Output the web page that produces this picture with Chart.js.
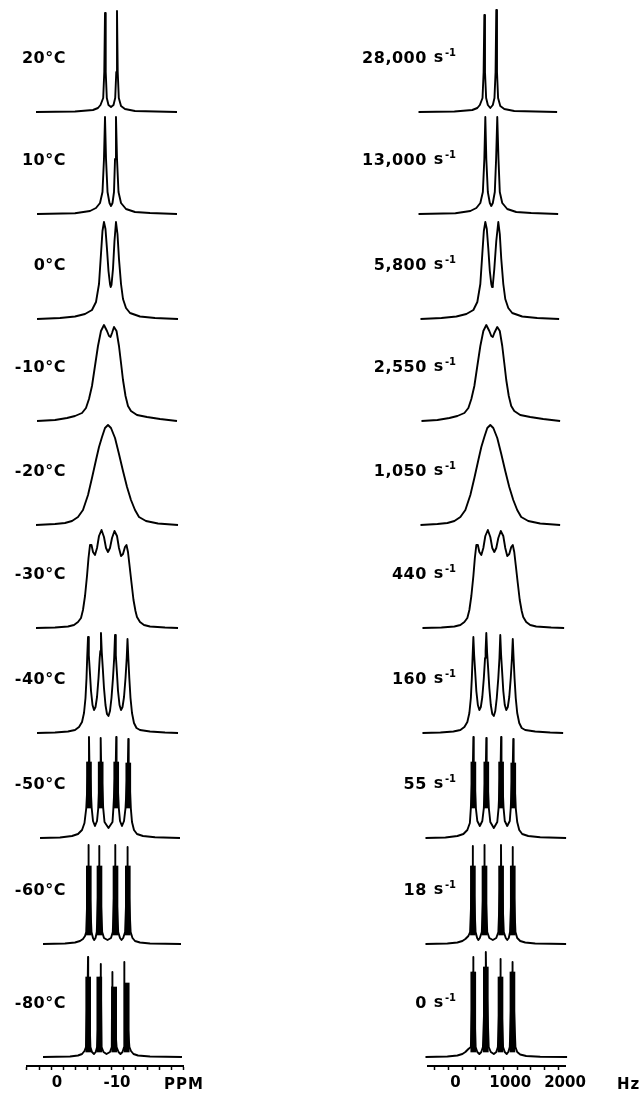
<!DOCTYPE html>
<html>
<head>
<meta charset="utf-8">
<title>Exchange-broadened spectra vs. temperature</title>
<script src="https://cdn.jsdelivr.net/npm/chart.js@4.4.1/dist/chart.umd.min.js"></script>
<style>
  html, body { margin: 0; padding: 0; background: #fff; }
  #page { position: relative; width: 641px; height: 1093px; overflow: hidden; }
  canvas { position: absolute; top: 0; }
  .lbl {
    position: absolute;
    font-family: 'DejaVu Sans', sans-serif;
    font-weight: bold;
    font-size: 16px;
    letter-spacing: 0.5px;
    color: #000;
    white-space: nowrap;
    transform: translateY(-50%);
  }
  .lbl sup { font-size: 10px; letter-spacing: 0; margin-left: 1px; }
  .lbl .unit { margin-left: 7px; }
  .axis-unit { font-size: 15px; letter-spacing: 1px; }
</style>
</head>
<body>
<div id="page">
  <canvas id="left-chart" width="320" height="1093" style="left:0"></canvas>
  <canvas id="right-chart" width="321" height="1093" style="left:320px"></canvas>
</div>
<script>
/* ═══════════════════════════════════════════════════════════════════════════
   Stacked spectra — observed (ppm, left) and calculated (Hz, right)
   Each trace is [position, height above its own baseline].
   ═══════════════════════════════════════════════════════════════════════════ */

const tempLabels = ['20°C', '10°C', '0°C', '-10°C', '-20°C', '-30°C', '-40°C', '-50°C', '-60°C', '-80°C'];
const rateLabels = ['28,000', '13,000', '5,800', '2,550', '1,050', '440', '160', '55', '18', '0'];

const ppmTicks = [4, 2, 0, -2, -4, -6, -8, -10, -12, -14, -16, -18, -20];
const ppmTickLabels = { '0': '0', '-10': '-10' };
const hzTicks = [-500, -250, 0, 250, 500, 750, 1000, 1250, 1500, 1750, 2000];
const hzTickLabels = { '0': '0', '1000': '1000', '2000': '2000' };

// ─── Observed (ppm) ──────────────────────────────────────────────────────────

const obs20 = [[3.5,0],[-3,0.5],[-6,2],[-6.83,4],[-7.25,7],[-7.7,14],[-7.88,40],[-8,99],[-8.12,40],[-8.3,14],[-8.58,7],[-9,5],[-9.42,7],[-9.7,14],[-9.88,40],[-10,101],[-10.12,40],[-10.3,14],[-10.67,6],[-11.33,3],[-13,1],[-20,0]];
const obs10 = [[3.33,0],[-3,0.7],[-5.5,3],[-6.5,6],[-7.17,11],[-7.58,22],[-7.83,55],[-8,97],[-8.17,55],[-8.42,22],[-8.75,11],[-9,8],[-9.25,11],[-9.5,22],[-9.67,55],[-9.83,97],[-10,55],[-10.25,22],[-10.67,11],[-11.5,5],[-13,2],[-15.5,1],[-20,0]];
const obs0 = [[3.33,0],[-0.5,1],[-3,2.5],[-4.67,5],[-5.83,9],[-6.5,17],[-7,35],[-7.33,65],[-7.58,88],[-7.83,97],[-8.08,90],[-8.33,70],[-8.58,48],[-8.83,35],[-8.95,32],[-9.08,34],[-9.33,50],[-9.58,78],[-9.83,97],[-10.08,85],[-10.33,60],[-10.67,35],[-11,20],[-11.5,11],[-12.17,6],[-13.83,2.5],[-16.33,1],[-20.17,0]];
const obsM10 = [[3.33,0],[0.33,1],[-1.67,3],[-3,5],[-4.17,8],[-4.83,13],[-5.33,22],[-5.83,35],[-6.33,55],[-6.83,75],[-7.33,90],[-7.83,96],[-8.33,90],[-8.67,85],[-8.92,84],[-9.17,88],[-9.5,94],[-9.92,90],[-10.33,75],[-10.67,58],[-11,41],[-11.42,25],[-11.83,15],[-12.33,10],[-13.33,6],[-15,4],[-17.17,2],[-20,0]];
const obsM20 = [[3.5,0],[0.33,1],[-1.33,2],[-2.5,4],[-3.5,8],[-4.33,15],[-5.17,30],[-5.83,47],[-6.5,65],[-7,78],[-7.5,88],[-8,97],[-8.5,100],[-9,97],[-9.67,87],[-10.33,71],[-11,54],[-11.67,38],[-12.33,25],[-13,15],[-13.67,8],[-14.83,4],[-16.83,1.5],[-20.17,0]];
const obsM30 = [[3.5,0],[0.33,0.5],[-1.83,1.5],[-2.83,3],[-3.5,6],[-4,10],[-4.33,18],[-4.67,32],[-5,52],[-5.25,70],[-5.5,83],[-5.75,83],[-6,76],[-6.33,73],[-6.67,80],[-7,92],[-7.42,98],[-7.83,91],[-8.17,80],[-8.5,76],[-8.83,80],[-9.17,90],[-9.58,97],[-10,92],[-10.33,80],[-10.67,72],[-11,74],[-11.33,81],[-11.58,83],[-11.83,76],[-12.08,63],[-12.42,45],[-12.75,28],[-13.08,17],[-13.33,11],[-13.83,6],[-14.5,3],[-15.5,1.5],[-18,0.5],[-20.17,0]];
const obsM40 = [[3.33,0],[0.33,0.5],[-1.83,1.5],[-3,3],[-3.67,6],[-4.17,11],[-4.5,20],[-4.75,35],[-4.92,55],[-5.03,75],[-5.17,96],[-5.3,78],[-5.47,62],[-5.67,42],[-5.92,28],[-6.17,23],[-6.42,26],[-6.67,36],[-6.92,55],[-7.12,75],[-7.22,82],[-7.33,100],[-7.47,80],[-7.63,65],[-7.83,45],[-8.08,28],[-8.33,19],[-8.58,17],[-8.83,22],[-9.08,35],[-9.33,55],[-9.53,75],[-9.67,98],[-9.8,78],[-9.97,62],[-10.17,42],[-10.42,28],[-10.67,23],[-10.92,26],[-11.17,36],[-11.42,55],[-11.62,75],[-11.75,94],[-11.88,76],[-12.05,55],[-12.25,35],[-12.5,20],[-12.83,10],[-13.25,5],[-13.83,3],[-15.5,1.5],[-18,0.5],[-20.17,0]];
const obsM50 = [[2.83,0],[-0.5,0.5],[-2.5,2],[-3.5,4],[-4.17,8],[-4.58,15],[-4.88,30],[-5.27,76],[-5.33,101],[-5.4,76],[-5.78,30],[-6,17],[-6.33,12],[-6.67,17],[-6.88,30],[-7.22,76],[-7.28,100],[-7.35,76],[-7.7,30],[-7.92,16],[-8.58,10],[-9.25,16],[-9.4,30],[-9.8,76],[-9.87,101],[-9.93,76],[-10.3,30],[-10.5,17],[-10.83,12],[-11.17,17],[-11.42,30],[-11.82,76],[-11.88,99],[-11.95,76],[-12.3,30],[-12.5,16],[-12.83,8],[-13.33,4],[-14.33,2],[-16.33,0.8],[-20.5,0]];
const obsM60 = [[2.33,0],[-1.33,0.5],[-3,1.5],[-3.83,3],[-4.33,5],[-4.67,8],[-4.87,12],[-5.22,78],[-5.25,99],[-5.28,78],[-5.75,12],[-6,6],[-6.2,4],[-6.42,6],[-6.63,12],[-7,78],[-7.03,98],[-7.07,78],[-7.53,12],[-7.83,6],[-8.42,4],[-9,6],[-9.3,12],[-9.67,78],[-9.7,99],[-9.73,78],[-10.2,12],[-10.5,6],[-10.75,4],[-11.03,6],[-11.35,12],[-11.72,78],[-11.75,97],[-11.78,78],[-12.27,12],[-12.58,6],[-13,3],[-13.83,1.5],[-15.5,0.5],[-20.67,0]];
const obsM80 = [[2.33,0],[-2.17,0.5],[-3.5,1.5],[-4.17,3],[-4.58,6],[-4.83,10],[-5.13,80],[-5.17,100],[-5.2,80],[-5.57,10],[-5.83,5],[-6.17,3],[-6.45,5],[-6.68,10],[-7.25,80],[-7.28,93],[-7.32,80],[-7.43,10],[-7.75,5],[-8.25,3],[-8.83,5],[-9.13,10],[-9.18,70],[-9.22,85],[-9.25,70],[-9.93,10],[-10.25,5],[-10.58,3],[-10.92,5],[-11.18,10],[-11.2,74],[-11.22,95],[-11.25,74],[-12.07,10],[-12.33,6],[-12.75,3],[-13.5,1.5],[-15.5,0.5],[-20.83,0]];

// unresolved multiplets drawn as solid blocks: [position, from, to]
const obsBlocksM50 = [[-5.33,30,76],[-7.28,30,76],[-9.87,30,76],[-11.88,30,75]];
const obsBlocksM60 = [[-5.3,9,78],[-7.08,9,78],[-9.75,9,78],[-11.8,9,78]];
const obsBlocksM80 = [[-5.2,5,80],[-7.05,5,80],[-9.53,5,70],[-11.62,5,74]];

// ─── Calculated (Hz) ─────────────────────────────────────────────────────────

const calc28000 = [[-673,0],[-18,0.5],[309,2],[400,4],[446,7],[495,14],[515,40],[528,97],[540,40],[561,14],[592,7],[637,4],[683,7],[713,14],[733,40],[746,102],[759,40],[779,14],[819,6],[892,3],[1074,1],[1856,0]];
const calc13000 = [[-673,0],[0,0.7],[273,3],[382,6],[455,11],[501,22],[528,55],[546,97],[564,55],[592,22],[628,11],[655,8],[683,11],[719,22],[743,55],[764,97],[786,55],[810,22],[855,11],[946,5],[1110,2],[1383,1],[1875,0]];
const calc5800 = [[-637,0],[-255,1],[18,2.5],[200,5],[328,9],[400,17],[455,35],[491,65],[519,88],[546,97],[573,90],[601,70],[628,48],[655,35],[668,32],[683,34],[710,50],[746,78],[783,97],[810,85],[837,60],[874,35],[910,20],[965,11],[1037,6],[1219,2.5],[1492,1],[1893,0]];
const calc2550 = [[-619,0],[-328,1],[-109,3],[36,5],[164,8],[237,13],[291,22],[346,35],[400,55],[455,75],[510,90],[564,96],[619,90],[655,85],[683,84],[710,88],[764,94],[810,90],[855,75],[892,58],[928,41],[974,25],[1019,15],[1074,10],[1183,6],[1365,4],[1602,2],[1911,0]];
const calc1050 = [[-637,0],[-328,1],[-146,2],[-18,4],[91,8],[182,15],[273,30],[346,47],[419,65],[473,78],[528,88],[582,97],[637,100],[692,97],[764,87],[837,71],[910,54],[983,38],[1056,25],[1128,15],[1201,8],[1329,4],[1547,1.5],[1911,0]];
const calc440 = [[-601,0],[-255,0.5],[-18,1.5],[91,3],[164,6],[218,10],[255,18],[291,32],[328,52],[355,70],[382,83],[410,83],[437,76],[473,73],[510,80],[546,92],[592,98],[637,91],[673,80],[710,76],[746,80],[783,90],[828,97],[874,92],[910,80],[946,72],[983,74],[1019,81],[1047,83],[1074,76],[1101,63],[1138,45],[1174,28],[1210,17],[1238,11],[1292,6],[1365,3],[1474,1.5],[1747,0.5],[1984,0]];
const calc160 = [[-601,0],[-273,0.5],[-36,1.5],[91,3],[164,6],[218,11],[255,20],[282,35],[300,55],[313,75],[328,96],[342,78],[360,62],[382,42],[410,28],[437,23],[464,26],[491,36],[519,55],[541,75],[551,82],[564,100],[579,80],[597,65],[619,45],[646,28],[673,19],[701,17],[728,22],[755,35],[783,55],[804,75],[819,98],[834,78],[852,62],[874,42],[901,28],[928,23],[956,26],[983,36],[1010,55],[1032,75],[1047,94],[1061,76],[1079,55],[1101,35],[1128,20],[1165,10],[1210,5],[1274,3],[1456,1.5],[1729,0.5],[1966,0]];
const calc55 = [[-546,0],[-182,0.5],[36,2],[146,4],[218,8],[264,15],[282,30],[320,76],[328,101],[335,76],[373,30],[400,17],[446,12],[491,17],[519,30],[557,76],[564,100],[571,76],[610,30],[637,16],[701,10],[764,16],[788,30],[826,76],[834,101],[841,76],[879,30],[901,17],[946,12],[992,17],[1010,30],[1048,76],[1056,99],[1063,76],[1101,30],[1128,16],[1165,8],[1219,4],[1329,2],[1547,0.8],[2020,0]];
const calc18 = [[-546,0],[-146,0.5],[36,1.5],[127,3],[182,5],[237,8],[268,12],[313,78],[317,98],[320,78],[368,12],[397,6],[419,4],[446,6],[482,12],[526,78],[530,99],[533,78],[581,12],[619,6],[683,4],[746,6],[784,12],[828,78],[832,99],[835,78],[883,12],[919,6],[946,4],[974,6],[997,12],[1041,78],[1045,97],[1048,78],[1096,12],[1128,6],[1183,3],[1274,1.5],[1456,0.5],[2020,0]];
const calc0 = [[-546,0],[-146,0.5],[36,1.5],[127,3],[182,5],[237,8],[282,10],[322,85],[326,100],[329,85],[369,10],[400,5],[437,3],[473,5],[502,10],[551,90],[555,105],[559,90],[608,10],[646,5],[701,3],[746,5],[775,10],[819,80],[823,98],[826,80],[870,10],[901,5],[937,3],[965,5],[992,10],[1037,85],[1041,95],[1045,85],[1096,10],[1128,5],[1183,2.5],[1292,1],[1547,0.3],[2038,0]];

const calcBlocks55 = [[328,30,76],[564,30,76],[834,30,76],[1056,30,75]];
const calcBlocks18 = [[319,9,78],[531,9,78],[834,9,78],[1047,9,78]];
const calcBlocks0 = [[326,5,85],[555,5,90],[823,5,80],[1041,5,85]];

// ─── Layout ──────────────────────────────────────────────────────────────────

const AXIS_Y = 1066;  // page y of both bottom axes
const ROW_BASE = [112, 214, 319, 421, 525, 628, 733, 838, 944, 1057];  // page y of each baseline

const obsRows = [obs20, obs10, obs0, obsM10, obsM20, obsM30, obsM40, obsM50, obsM60, obsM80];
const obsBlocks = { 7: obsBlocksM50, 8: obsBlocksM60, 9: obsBlocksM80 };
const calcRows = [calc28000, calc13000, calc5800, calc2550, calc1050, calc440, calc160, calc55, calc18, calc0];
const calcBlocks = { 7: calcBlocks55, 8: calcBlocks18, 9: calcBlocks0 };

function traceDataset(points, row) {
  const off = AXIS_Y - ROW_BASE[row];
  return {
    type: 'line',
    data: points.map(([x, h]) => ({ x, y: off + h })),
    borderColor: '#000',
    borderWidth: 1.9,
    borderJoinStyle: 'round',
    pointRadius: 0,
    tension: 0,
    clip: false,
  };
}

function blockDataset(blocks, row) {
  const off = AXIS_Y - ROW_BASE[row];
  return {
    type: 'bar',
    data: blocks.map(([x, lo, hi]) => ({ x, y: [off + lo, off + hi] })),
    backgroundColor: '#000',
    borderWidth: 0,
    barThickness: 5,
    grouped: false,
    clip: false,
  };
}

function buildDatasets(rows, blocks) {
  const sets = [];
  rows.forEach((pts, i) => {
    sets.push(traceDataset(pts, i));
    if (blocks[i]) sets.push(blockDataset(blocks[i], i));
  });
  return sets;
}

function makeChart(id, datasets, xOpts) {
  const ctx = document.getElementById(id).getContext('2d');
  return new Chart(ctx, {
    type: 'line',
    data: { datasets },
    options: {
      responsive: false,
      animation: false,
      events: [],
      layout: { padding: { left: xOpts.padLeft, right: xOpts.padRight, top: 0, bottom: 0 } },
      plugins: { legend: { display: false }, tooltip: { enabled: false } },
      scales: {
        x: {
          type: 'linear',
          min: xOpts.min,
          max: xOpts.max,
          reverse: xOpts.reverse,
          offset: false,
          afterBuildTicks: axis => { axis.ticks = xOpts.ticks.map(v => ({ value: v })); },
          afterFit: axis => { axis.height = 1093 - AXIS_Y; },
          border: { display: true, color: '#000', width: 2 },
          grid: { drawOnChartArea: false, drawTicks: true, tickLength: 4, tickColor: '#000', tickWidth: 1.5 },
          ticks: {
            color: '#000',
            padding: 4,
            autoSkip: false,
            maxRotation: 0,
            font: { family: 'DejaVu Sans', weight: 'bold', size: 15 },
            callback: v => xOpts.labels[String(v)] ?? '',
          },
        },
        y: { display: false, min: 0, max: AXIS_Y },
      },
    },
  });
}

// ─── Text ────────────────────────────────────────────────────────────────────

function addText(html, style, extraClass) {
  const el = document.createElement('div');
  el.className = 'lbl' + (extraClass ? ' ' + extraClass : '');
  el.innerHTML = html;
  Object.assign(el.style, style);
  document.getElementById('page').appendChild(el);
}

function init() {
  makeChart('left-chart', buildDatasets(obsRows, obsBlocks), {
    min: -21, max: 5, reverse: true, padLeft: 27, padRight: 137,
    ticks: ppmTicks, labels: ppmTickLabels,
  });
  makeChart('right-chart', buildDatasets(calcRows, calcBlocks), {
    min: -500, max: 2000, reverse: false, padLeft: 108, padRight: 76,
    ticks: hzTicks, labels: hzTickLabels,
  });

  tempLabels.forEach((t, i) => {
    addText(t, { right: (641 - 66) + 'px', top: (ROW_BASE[i] - 55) + 'px' });
  });
  rateLabels.forEach((r, i) => {
    addText(`${r}<span class="unit">s<sup>-1</sup></span>`, { right: (641 - 456) + 'px', top: (ROW_BASE[i] - 55) + 'px' });
  });
  addText('PPM', { left: '164px', top: '1084px' }, 'axis-unit');
  addText('Hz', { left: '617px', top: '1084px' }, 'axis-unit');
}

document.addEventListener('DOMContentLoaded', init);
</script>
</body>
</html>
